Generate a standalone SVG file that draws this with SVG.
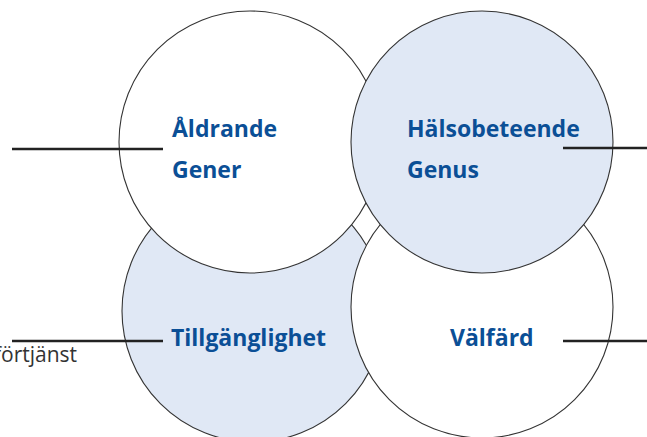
<svg xmlns="http://www.w3.org/2000/svg" width="647" height="437" viewBox="0 0 647 437">
<style>
.c{stroke:#333;stroke-width:1.1}
.w{fill:#ffffff}
.b{fill:#e0e8f5}
.l{font-family:"Open Sans","Noto Sans",sans-serif;font-weight:700;font-size:23px;fill:#0b4f96}
.t{font-family:"Open Sans","Noto Sans",sans-serif;font-size:21px;fill:#333}
.k{stroke:#222;stroke-width:2.5;fill:none}
</style>
<rect width="647" height="437" fill="#ffffff"/>
<g id="tillganglighet">
<circle class="c b" cx="253" cy="311" r="131"/>
</g>
<g id="valfard">
<circle class="c w" cx="482" cy="307" r="131"/>
</g>
<g id="aldrande">
<circle class="c w" cx="250" cy="142" r="131"/>
</g>
<g id="halsobeteende">
<circle class="c b" cx="482" cy="142" r="131"/>
</g>
<g id="connectors">
<line class="k" x1="12" y1="149" x2="163" y2="149"/>
<line class="k" x1="563" y1="148" x2="647" y2="148"/>
<line class="k" x1="12" y1="341" x2="163" y2="341"/>
<line class="k" x1="563" y1="341" x2="647" y2="341"/>
</g>
<g id="labels">
<text class="l" x="172" y="137">Åldrande</text>
<text class="l" x="172" y="178">Gener</text>
<text class="l" x="407" y="137">Hälsobeteende</text>
<text class="l" x="407" y="178">Genus</text>
<text class="l" x="171" y="346">Tillgänglighet</text>
<text class="l" x="450" y="346">Välfärd</text>
<text class="t" x="-6" y="362">förtjänst</text>
</g>
</svg>
